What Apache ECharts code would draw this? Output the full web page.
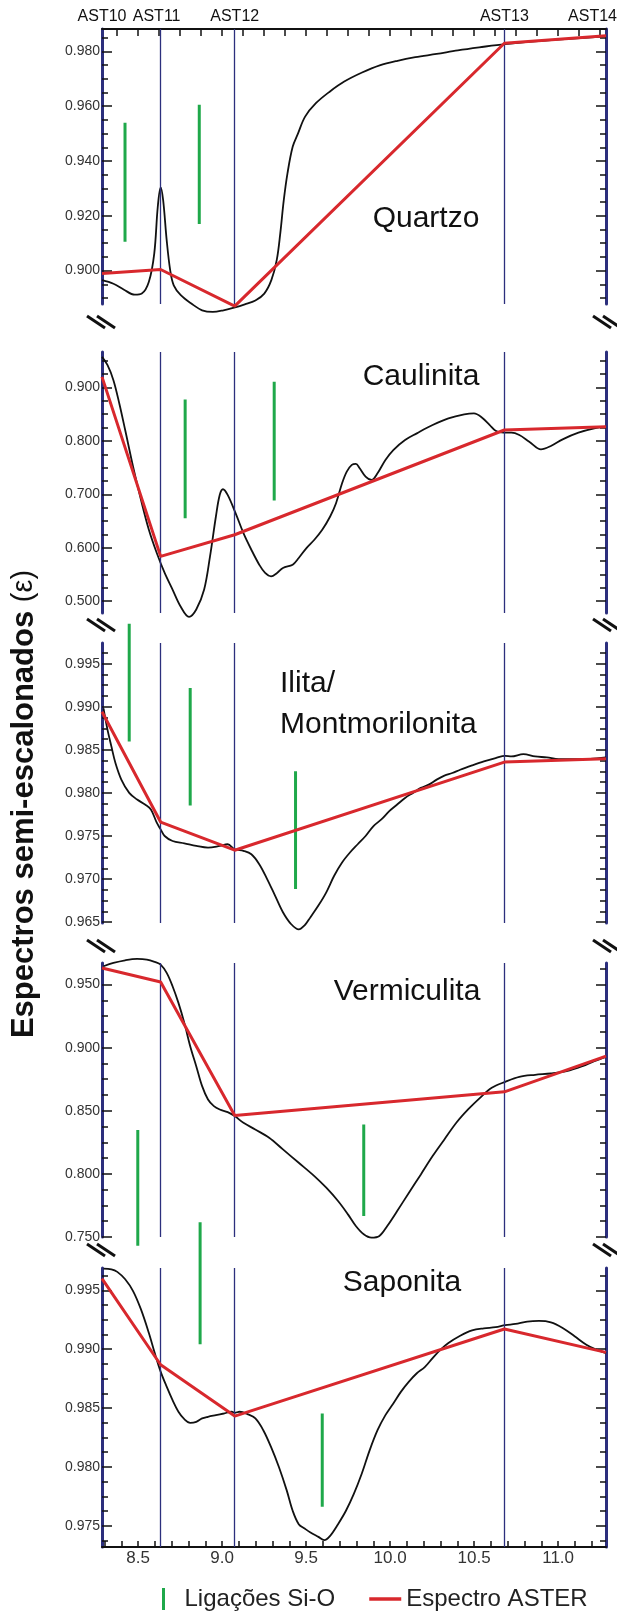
<!DOCTYPE html>
<html><head><meta charset="utf-8">
<script src="https://cdn.jsdelivr.net/npm/echarts@6/dist/echarts.min.js"></script>
<style>html,body{margin:0;padding:0;background:#fff}#c{width:617px;height:1612px}</style>
</head><body><div id="c"></div>
<script>
// ---------------- DATA ----------------
const AST_BANDS = ['AST10', 'AST11', 'AST12', 'AST13', 'AST14'];
const AST_X = [8.285, 8.634, 9.075, 10.68, 11.285];
const X_MIN = 8.285, X_MAX = 11.285;
const X_TICK_LABELS = [8.5, 9.0, 9.5, 10.0, 10.5, 11.0];
const PANEL_NAMES = ['Quartzo', 'Caulinita', 'Ilita/\nMontmorilonita', 'Vermiculita', 'Saponita'];

// Quartzo
const quartzoLab = [[8.285,0.8965],[8.353,0.8952],[8.416,0.8930],[8.480,0.8912],[8.522,0.8916],[8.564,0.8959],[8.596,0.9062],[8.617,0.9233],[8.634,0.9304],[8.649,0.9257],[8.670,0.9111],[8.691,0.9001],[8.712,0.8946],[8.754,0.8910],[8.818,0.8879],[8.881,0.8855],[8.945,0.8849],[9.008,0.8855],[9.071,0.8865],[9.135,0.8877],[9.198,0.8891],[9.251,0.8916],[9.293,0.8965],[9.325,0.9038],[9.346,0.9135],[9.367,0.9257],[9.389,0.9355],[9.420,0.9452],[9.452,0.9501],[9.494,0.9562],[9.558,0.9611],[9.642,0.9654],[9.727,0.9690],[9.833,0.9723],[9.938,0.9749],[10.044,0.9766],[10.150,0.9779],[10.277,0.9791],[10.403,0.9804],[10.530,0.9815],[10.685,0.9827],[10.995,0.9843],[11.285,0.9855]];
const quartzoAster = [0.8989, 0.9004, 0.8870, 0.9830, 0.9857];
const quartzoSiO = [[8.422, 0.9540, 0.9105], [8.864, 0.9605, 0.9170]];
const quartzoYLabels = [0.90, 0.92, 0.94, 0.96, 0.98];

// Caulinita
const caulinitaLab = [[8.285,0.9572],[8.318,0.9417],[8.353,0.9137],[8.388,0.8701],[8.423,0.8204],[8.470,0.7519],[8.517,0.6897],[8.564,0.6337],[8.611,0.5902],[8.658,0.5529],[8.705,0.5218],[8.752,0.4907],[8.803,0.4708],[8.846,0.4845],[8.893,0.5218],[8.928,0.5840],[8.963,0.6586],[8.986,0.6991],[9.005,0.7096],[9.033,0.6991],[9.080,0.6649],[9.127,0.6275],[9.174,0.5964],[9.221,0.5684],[9.256,0.5529],[9.291,0.5467],[9.327,0.5529],[9.362,0.5622],[9.420,0.5684],[9.456,0.5809],[9.502,0.5995],[9.549,0.6151],[9.596,0.6338],[9.643,0.6586],[9.678,0.6835],[9.714,0.7208],[9.742,0.7426],[9.772,0.7551],[9.796,0.7569],[9.819,0.7488],[9.854,0.7333],[9.890,0.7271],[9.925,0.7395],[9.972,0.7644],[10.019,0.7830],[10.089,0.8017],[10.159,0.8142],[10.253,0.8297],[10.347,0.8421],[10.441,0.8496],[10.499,0.8515],[10.546,0.8440],[10.593,0.8297],[10.628,0.8191],[10.675,0.8154],[10.722,0.8154],[10.769,0.8110],[10.828,0.7986],[10.898,0.7843],[10.957,0.7905],[11.027,0.8030],[11.121,0.8154],[11.215,0.8235],[11.285,0.8266]];
const caulinitaAster = [0.9199, 0.5840, 0.6244, 0.8204, 0.8266];
const caulinitaSiO = [[8.780, 0.8776, 0.6555], [9.310, 0.9106, 0.6885]];
const caulinitaYLabels = [0.5, 0.6, 0.7, 0.8, 0.9];

// Ilita / Montmorilonita
const ilitaLab = [[8.294,0.98981],[8.318,0.98731],[8.341,0.98538],[8.365,0.98346],[8.400,0.98154],[8.447,0.98000],[8.494,0.97923],[8.541,0.97865],[8.576,0.97808],[8.611,0.97654],[8.634,0.97577],[8.658,0.97500],[8.705,0.97442],[8.775,0.97415],[8.846,0.97385],[8.916,0.97365],[8.986,0.97385],[9.033,0.97404],[9.075,0.97346],[9.127,0.97327],[9.174,0.97288],[9.221,0.97173],[9.268,0.97000],[9.315,0.96808],[9.362,0.96615],[9.409,0.96481],[9.456,0.96415],[9.491,0.96462],[9.526,0.96558],[9.573,0.96692],[9.620,0.96846],[9.667,0.97038],[9.714,0.97192],[9.761,0.97308],[9.807,0.97404],[9.854,0.97500],[9.901,0.97615],[9.948,0.97692],[9.995,0.97788],[10.042,0.97865],[10.089,0.97942],[10.136,0.98000],[10.183,0.98058],[10.230,0.98096],[10.277,0.98154],[10.323,0.98200],[10.370,0.98231],[10.417,0.98269],[10.488,0.98319],[10.558,0.98365],[10.628,0.98404],[10.685,0.98431],[10.722,0.98423],[10.793,0.98450],[10.863,0.98423],[10.933,0.98412],[11.004,0.98392],[11.098,0.98392],[11.191,0.98396],[11.285,0.98412]];
const ilitaAster = [0.98942, 0.97662, 0.97335, 0.98358, 0.98396];
const ilitaSiO = [[8.447, 0.99962, 0.98596], [8.810, 0.99219, 0.97854], [9.437, 0.98250, 0.96885]];
const ilitaYLabels = [0.965, 0.970, 0.975, 0.980, 0.985, 0.990, 0.995];

// Vermiculita
const vermiculitaLab = [[8.294,0.96451],[8.353,0.96715],[8.423,0.96926],[8.494,0.97032],[8.552,0.96979],[8.599,0.96794],[8.634,0.96583],[8.670,0.95923],[8.705,0.94868],[8.740,0.93549],[8.775,0.91966],[8.810,0.90119],[8.846,0.88536],[8.881,0.86953],[8.916,0.85897],[8.951,0.85369],[8.986,0.85106],[9.033,0.84894],[9.075,0.84578],[9.127,0.84050],[9.197,0.83522],[9.280,0.82863],[9.362,0.81939],[9.456,0.80884],[9.549,0.79828],[9.620,0.78905],[9.690,0.77850],[9.749,0.76794],[9.796,0.75871],[9.843,0.75211],[9.889,0.74947],[9.936,0.75079],[9.983,0.75871],[10.042,0.77058],[10.112,0.78509],[10.183,0.79960],[10.253,0.81412],[10.323,0.82731],[10.394,0.84050],[10.464,0.85106],[10.535,0.86029],[10.605,0.86821],[10.685,0.87296],[10.769,0.87691],[10.863,0.87850],[10.957,0.87955],[11.051,0.88140],[11.145,0.88536],[11.215,0.88931],[11.285,0.89274]];
const vermiculitaAster = [0.9632, 0.9521, 0.8463, 0.8650, 0.8933];
const vermiculitaSiO = [[8.498, 0.8347, 0.7431], [9.843, 0.8392, 0.7666]];
const vermiculitaYLabels = [0.75, 0.80, 0.85, 0.90, 0.95];

// Saponita
const saponitaLab = [[8.294,0.99685],[8.341,0.99679],[8.376,0.99657],[8.423,0.99594],[8.470,0.99494],[8.517,0.99338],[8.564,0.99138],[8.599,0.98967],[8.634,0.98810],[8.670,0.98682],[8.705,0.98568],[8.740,0.98469],[8.775,0.98406],[8.810,0.98375],[8.846,0.98383],[8.881,0.98412],[8.916,0.98426],[8.963,0.98440],[9.010,0.98454],[9.057,0.98469],[9.075,0.98460],[9.104,0.98469],[9.151,0.98449],[9.198,0.98412],[9.245,0.98312],[9.291,0.98170],[9.338,0.97999],[9.385,0.97799],[9.420,0.97628],[9.456,0.97514],[9.491,0.97477],[9.526,0.97443],[9.573,0.97406],[9.608,0.97378],[9.643,0.97415],[9.690,0.97514],[9.737,0.97628],[9.784,0.97771],[9.831,0.97942],[9.878,0.98141],[9.925,0.98312],[9.972,0.98440],[10.019,0.98540],[10.065,0.98640],[10.112,0.98725],[10.159,0.98796],[10.206,0.98848],[10.253,0.98925],[10.300,0.98996],[10.347,0.99053],[10.417,0.99115],[10.488,0.99161],[10.558,0.99178],[10.628,0.99187],[10.685,0.99204],[10.746,0.99215],[10.816,0.99235],[10.886,0.99241],[10.957,0.99229],[11.027,0.99181],[11.098,0.99110],[11.168,0.99038],[11.227,0.98996],[11.285,0.98967]];
const saponitaAster = [0.99600, 0.98868, 0.98432, 0.99172, 0.98973];
const saponitaSiO = [[8.869, 1.00078, 0.99043], [9.596, 0.98454, 0.97662]];
const saponitaYLabels = [0.975, 0.980, 0.985, 0.990, 0.995];

// ---------------- LAYOUT / STYLE ----------------
const panels = [
  { lab: quartzoLab, aster: quartzoAster, sio: quartzoSiO, yl: quartzoYLabels, min: 0.8878, max: 0.9882, minor: 0.005, top: 29, h: 275 },
  { lab: caulinitaLab, aster: caulinitaAster, sio: caulinitaSiO, yl: caulinitaYLabels, min: 0.478, max: 0.9664, minor: 0.025, top: 352, h: 261 },
  { lab: ilitaLab, aster: ilitaAster, sio: ilitaSiO, yl: ilitaYLabels, min: 0.9649, max: 0.9974, minor: 0.00125, top: 643, h: 280 },
  { lab: vermiculitaLab, aster: vermiculitaAster, sio: vermiculitaSiO, yl: vermiculitaYLabels, min: 0.750, max: 0.9671, minor: 0.0125, top: 963, h: 274 },
  { lab: saponitaLab, aster: saponitaAster, sio: saponitaSiO, yl: saponitaYLabels, min: 0.9732, max: 0.9969, minor: 0.00125, top: 1268, h: 279 }
];
const NAVY = '#2c2f7d', RED = '#d8282d', GREEN = '#1fa84a', BLACK = '#111';
const FONT = 'Liberation Sans, Arial, sans-serif';

function minorTicks(p) {
  const out = [];
  const base = p.yl[0];
  for (let k = -8; k < 200; k++) {
    const v = +(base + k * p.minor).toFixed(6);
    if (v > p.min && v < p.max) out.push(v);
  }
  return out;
}
function rangeVals(a, b, s) { const o = []; for (let v = a; v <= b + 1e-9; v += s) o.push(+v.toFixed(4)); return o; }

const grids = [], xAxes = [], yAxes = [], series = [];
panels.forEach((p, i) => {
  grids.push({ left: 102, right: 11, top: p.top, height: p.h });
  const xa = { type: 'value', gridIndex: i, min: X_MIN, max: X_MAX, splitLine: { show: false } };
  if (i === 0) {
    Object.assign(xa, { position: 'top', axisLine: { show: true, lineStyle: { color: BLACK, width: 2 } },
      axisTick: { show: true, inside: true, length: 7, lineStyle: { color: BLACK, width: 1.5 }, customValues: rangeVals(8.375, 11.25, 0.125) },
      axisLabel: { show: false } });
  } else if (i === 4) {
    Object.assign(xa, { position: 'bottom', axisLine: { show: true, lineStyle: { color: BLACK, width: 2 } },
      axisTick: { show: true, inside: true, length: 6, lineStyle: { color: BLACK, width: 1.5 }, customValues: rangeVals(8.3, 11.2, 0.1) },
      axisLabel: { show: true, customValues: X_TICK_LABELS, formatter: v => v.toFixed(1), fontSize: 17, color: '#333', fontFamily: FONT, margin: 3 } });
  } else {
    Object.assign(xa, { show: false });
  }
  xAxes.push(xa);

  const mk = (pos, major, withLabel) => ({
    type: 'value', gridIndex: i, min: p.min, max: p.max, position: pos, splitLine: { show: false },
    axisLine: { show: major, onZero: false, lineStyle: { color: NAVY, width: 3 } },
    axisTick: { show: true, inside: true, length: major ? 10 : 6, lineStyle: { color: BLACK, width: 1.5 }, customValues: major ? p.yl : minorTicks(p) },
    axisLabel: withLabel ? { show: true, customValues: p.yl, formatter: v => v.toFixed(3), fontSize: 14, color: '#333', fontFamily: FONT, margin: 2 } : { show: false }
  });
  const yBase = yAxes.length;
  yAxes.push(mk('left', true, true), mk('left', false, false), mk('right', true, false), mk('right', false, false));

  series.push({
    type: 'line', name: 'lab' + i, xAxisIndex: i, yAxisIndex: yBase, data: p.lab, showSymbol: false, symbol: 'none',
    smooth: 0.35, clip: false, z: 3, lineStyle: { color: BLACK, width: 1.8 }, color: BLACK,
    markLine: { silent: true, symbol: ['none', 'none'], label: { show: false }, animation: false,
      lineStyle: { color: NAVY, width: 1.3, type: 'solid' }, data: AST_X.slice(1, 4).map(v => ({ xAxis: v })) }
  });
  series.push({
    type: 'line', name: 'Espectro ASTER', xAxisIndex: i, yAxisIndex: yBase, data: AST_X.map((x, k) => [x, p.aster[k]]),
    symbol: 'none', clip: false, z: 5, color: RED, itemStyle: { color: RED }, lineStyle: { color: RED, width: 3 }
  });
  p.sio.forEach(b => series.push({
    type: 'line', name: 'Ligações Si-O', xAxisIndex: i, yAxisIndex: yBase, data: [[b[0], b[1]], [b[0], b[2]]],
    symbol: 'none', clip: false, z: 4, color: GREEN, itemStyle: { color: GREEN }, lineStyle: { color: GREEN, width: 3 }
  }));
});

const chart = echarts.init(document.getElementById('c'), null, { renderer: 'canvas' });
chart.setOption({
  animation: false,
  backgroundColor: '#fff',
  grid: grids, xAxis: xAxes, yAxis: yAxes, series: series,
  legend: {
    left: 157, top: 1582, itemWidth: 32, itemHeight: 22, itemGap: 34, selectedMode: false,
    textStyle: { fontSize: 24, color: '#222', fontFamily: FONT },
    itemStyle: { borderWidth: 0 },
    data: [
      { name: 'Ligações Si-O', icon: 'path://M0,0 L3,0 L3,22 L0,22 Z', itemStyle: { color: GREEN } },
      { name: 'Espectro ASTER', icon: 'path://M0,0 L32,0 L32,3.5 L0,3.5 Z', itemStyle: { color: RED } }
    ]
  }
});

// ---------- annotations ----------
const g = [];
// AST band labels along the top axis
AST_BANDS.forEach((name, k) => {
  const px = chart.convertToPixel({ xAxisIndex: 0 }, AST_X[k]);
  const last = k === AST_BANDS.length - 1;
  g.push({ type: 'text', x: last ? 617 : px - (k === 1 ? 4 : 0), y: 17, style: { text: name, font: '16px ' + FONT, fill: '#111', align: last ? 'right' : 'center', verticalAlign: 'middle' } });
});
// Panel names
const namePos = [[426, 219, 'center'], [421, 377, 'center'], [280, 704, 'left'], [407, 992, 'center'], [402, 1283, 'center']];
PANEL_NAMES.forEach((n, k) => {
  g.push({ type: 'text', x: namePos[k][0], y: namePos[k][1], style: { text: n, font: '30px ' + FONT, fill: '#111', align: namePos[k][2], verticalAlign: 'middle', lineHeight: 41 } });
});
// Y axis title
g.push({ type: 'text', x: 24, y: 804, rotation: Math.PI / 2,
  style: { text: '{b|Espectros semi-escalonados }{n|(ε)}', align: 'center', verticalAlign: 'middle',
    rich: { b: { font: 'bold 31px ' + FONT, fill: '#111' }, n: { font: '29px ' + FONT, fill: '#111' } } } });
// Axis break marks
const breaks = [322, 625, 946, 1250];
breaks.forEach(y => {
  [101, 607].forEach(x => {
    [-5, 5].forEach(d => {
      g.push({ type: 'line', shape: { x1: x + d - 9, y1: y - 6, x2: x + d + 9, y2: y + 6 }, style: { stroke: '#111', lineWidth: 3 } });
    });
  });
});
chart.setOption({ graphic: g });
</script></body></html>
